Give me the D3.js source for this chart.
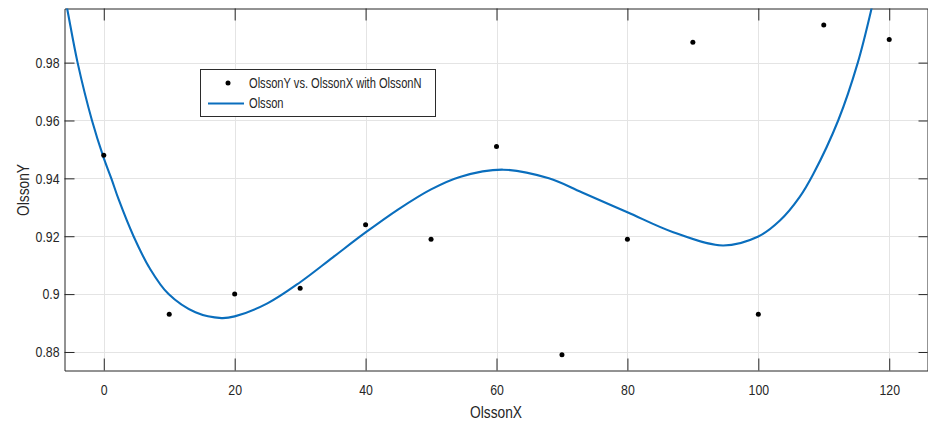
<!DOCTYPE html>
<html>
<head>
<meta charset="utf-8">
<script src="https://cdn.jsdelivr.net/npm/d3@7"></script>
<style>
  body { margin: 0; background: #fff; }
  svg text { font-family: "Liberation Sans", Arial, Helvetica, sans-serif; fill: #262626; }
</style>
</head>
<body>
<svg id="chart" width="928" height="421"></svg>
<script>
// Measured points (OlssonY vs. OlssonX)
const olssonX = [0, 10, 20, 30, 40, 50, 60, 70, 80, 90, 100, 110, 120];
const olssonY = [0.948, 0.893, 0.900, 0.902, 0.924, 0.919, 0.951, 0.879, 0.919, 0.987, 0.893, 0.993, 0.988];

// Fitted "Olsson" curve
const fitX = [-6.5, -5.6, -4, -1.8, 0, 1.15, 2.26, 4.55, 7, 9.9, 14, 18, 20, 25, 30, 35, 40, 45, 50, 54.4, 61, 68, 73, 80, 87, 94.6, 100, 103.3, 106.3, 108.4, 112.2, 115.2, 117.3, 118];
const fitY = [1.009, 0.9987, 0.980, 0.960, 0.947, 0.940, 0.9328, 0.920, 0.909, 0.900, 0.8937, 0.8917, 0.8923, 0.8968, 0.9041, 0.9127, 0.9213, 0.9293, 0.9362, 0.9405, 0.943, 0.940, 0.9352, 0.9283, 0.9214, 0.9168, 0.9199, 0.9254, 0.9335, 0.9415, 0.960, 0.980, 0.9987, 1.006];

const xTicks = [0, 20, 40, 60, 80, 100, 120];
const yTicks = [0.88, 0.90, 0.92, 0.94, 0.96, 0.98];
const yTickLabels = ["0.88", "0.9", "0.92", "0.94", "0.96", "0.98"];
const legendLabels = ["OlssonY vs. OlssonX with OlssonN", "Olsson"];

const svg = d3.select("#chart");
const plotLeft = 64.5, plotRight = 928.5, plotTop = 8.5, plotBottom = 370.5;

const x = d3.scaleLinear().domain([-6, 126]).range([plotLeft, plotRight]);
const y = d3.scaleLinear().domain([0.8736, 0.9987]).range([plotBottom, plotTop]);

// squeeze text horizontally, the reference uses a narrow face
function narrow(sel, k) {
  sel.each(function () {
    const w = this.getComputedTextLength();
    d3.select(this).attr("textLength", w * k).attr("lengthAdjust", "spacingAndGlyphs");
  });
}

svg.append("defs").append("clipPath").attr("id", "clip")
  .append("rect").attr("x", plotLeft).attr("y", plotTop)
  .attr("width", plotRight - plotLeft).attr("height", plotBottom - plotTop);

// grid
const grid = svg.append("g").attr("stroke", "#e4e4e4").attr("stroke-width", 1);
grid.selectAll(".gx").data(xTicks).join("line")
  .attr("x1", d => Math.round(x(d)) + 0.5).attr("x2", d => Math.round(x(d)) + 0.5)
  .attr("y1", plotTop).attr("y2", plotBottom);
grid.selectAll(".gy").data(yTicks).join("line")
  .attr("y1", d => Math.round(y(d)) + 0.5).attr("y2", d => Math.round(y(d)) + 0.5)
  .attr("x1", plotLeft).attr("x2", plotRight);

// axes
const axisColor = "#262626";
const xAxis = svg.append("g").attr("transform", `translate(0,${plotBottom})`)
  .call(d3.axisBottom(x).tickValues(xTicks).tickSizeInner(-12).tickSizeOuter(0).tickPadding(13.5));
const xTop = svg.append("g").attr("transform", `translate(0,${plotTop})`)
  .call(d3.axisTop(x).tickValues(xTicks).tickSizeInner(-12).tickSizeOuter(0).tickFormat(""));
const yAxis = svg.append("g").attr("transform", `translate(${plotLeft},0)`)
  .call(d3.axisLeft(y).tickValues(yTicks).tickSizeInner(-10).tickSizeOuter(0).tickPadding(5)
    .tickFormat((d, i) => yTickLabels[i]));
const yRight = svg.append("g").attr("transform", `translate(${plotRight - 1},0)`)
  .call(d3.axisRight(y).tickValues(yTicks).tickSizeInner(-9).tickSizeOuter(0).tickFormat(""));

[xAxis, xTop, yAxis, yRight].forEach(a => {
  a.select(".domain").attr("stroke", axisColor);
  a.selectAll(".tick line").attr("stroke", axisColor);
  a.selectAll("text").attr("font-size", 15).attr("fill", axisColor)
    .style("font-family", '"Liberation Sans", Arial, sans-serif')
    .call(narrow, 0.82);
});

// fitted curve
const line = d3.line().x((d, i) => x(fitX[i])).y(d => y(d)).curve(d3.curveCatmullRom.alpha(0.5));
svg.append("path").datum(fitY)
  .attr("clip-path", "url(#clip)")
  .attr("fill", "none").attr("stroke", "#0a6ebd").attr("stroke-width", 2.1)
  .attr("d", line);

// points
svg.append("g").selectAll("circle").data(olssonY).join("circle")
  .attr("cx", (d, i) => x(olssonX[i])).attr("cy", d => y(d))
  .attr("r", 2.5).attr("fill", "#000");

// axis labels
svg.append("text").attr("x", 496).attr("y", 418).attr("text-anchor", "middle")
  .attr("font-size", 17).text("OlssonX").call(narrow, 0.81);
svg.append("text").attr("transform", "translate(29,190) rotate(-90)")
  .attr("text-anchor", "middle").attr("font-size", 17).text("OlssonY").call(narrow, 0.81);

// legend
const lg = svg.append("g");
lg.append("rect").attr("x", 200.5).attr("y", 69.5).attr("width", 235).attr("height", 47)
  .attr("fill", "#fff").attr("stroke", "#2b2b2b").attr("stroke-width", 1);
lg.append("circle").attr("cx", 228).attr("cy", 83).attr("r", 2.5).attr("fill", "#000");
lg.append("line").attr("x1", 208).attr("x2", 244).attr("y1", 103.5).attr("y2", 103.5)
  .attr("stroke", "#0a6ebd").attr("stroke-width", 2.1);
lg.selectAll("text.lt").data(legendLabels).join("text")
  .attr("x", 249).attr("y", (d, i) => 88 + i * 20)
  .attr("font-size", 15).attr("fill", "#000").text(d => d)
  .call(narrow, 0.74);
</script>
</body>
</html>
